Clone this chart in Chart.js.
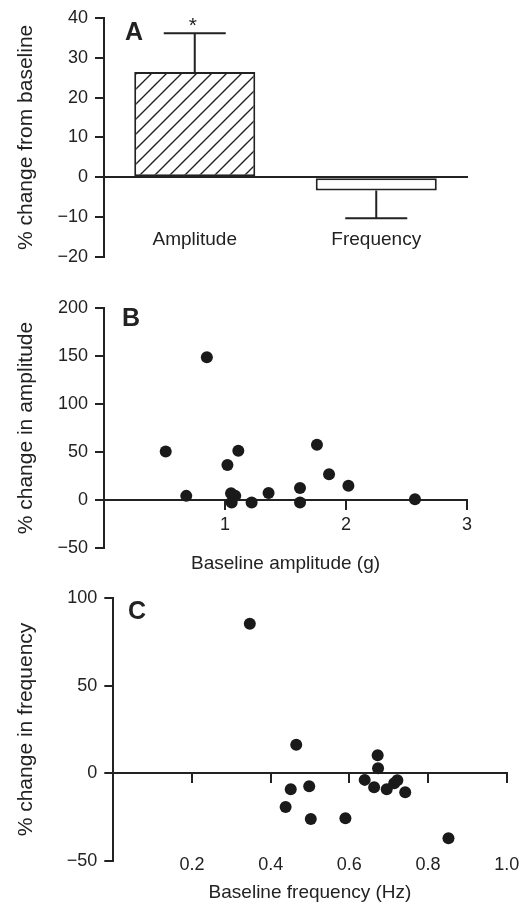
<!DOCTYPE html>
<html>
<head>
<meta charset="utf-8">
<script src="https://cdn.jsdelivr.net/npm/chart.js@4.4.1/dist/chart.umd.min.js"></script>
<style>
  body { margin: 0; background: #fff; }
  #wrap { position: relative; width: 521px; height: 909px; }
  canvas { position: absolute; left: 0; }
</style>
</head>
<body>
<div id="wrap">
  <canvas id="chartA" width="521" height="290" style="top:0px"></canvas>
  <canvas id="chartB" width="521" height="290" style="top:290px"></canvas>
  <canvas id="chartC" width="521" height="329" style="top:580px"></canvas>
</div>
<script>
// panel A: mean % change with SEM
const barLabels = ['Amplitude', 'Frequency'];
const barMeans = [26.4, -3.3];
const barErrors = [9.7, 7.0];
const barMarks = ['*', ''];

// panel B: baseline amplitude (g) vs % change in amplitude
const ampBaseline = [0.51, 0.68, 0.85, 1.02, 1.11, 1.05, 1.085, 1.055, 1.22, 1.36, 1.62, 1.62, 1.76, 1.86, 2.02, 2.57];
const ampChange = [50.6, 4.5, 148.5, 36.5, 51.3, 7.3, 4.5, -2.5, -2.5, 7.6, 12.8, -2.5, 57.6, 27, 14.9, 1];

// panel C: baseline frequency (Hz) vs % change in frequency
const freqBaseline = [0.347, 0.465, 0.451, 0.438, 0.498, 0.502, 0.59, 0.639, 0.663, 0.672, 0.673, 0.695, 0.714, 0.722, 0.742, 0.852];
const freqChange = [85.5, 16.3, -9.1, -19.3, -7.4, -26.1, -25.7, -3.8, -8, 10.3, 2.9, -9.1, -5.7, -4, -10.9, -37.1];

const ink = '#222';
const fam = "'Liberation Sans', Arial, Helvetica, sans-serif";
Chart.defaults.font.family = fam;
Chart.defaults.color = ink;

function minus(v) {
  return String(v).replace('-', '\u2212');
}

function hatch() {
  const c = document.createElement('canvas');
  c.width = 15; c.height = 15;
  const g = c.getContext('2d');
  g.fillStyle = '#fff';
  g.fillRect(0, 0, 15, 15);
  g.strokeStyle = ink;
  g.lineWidth = 1.4;
  g.beginPath();
  g.moveTo(0, 15); g.lineTo(15, 0);
  g.moveTo(-3, 3); g.lineTo(3, -3);
  g.moveTo(12, 18); g.lineTo(18, 12);
  g.stroke();
  return g.createPattern(c, 'repeat');
}

// big panel letter
const panelLetter = {
  id: 'panelLetter',
  afterDraw(chart, args, opts) {
    const ctx = chart.ctx;
    ctx.save();
    ctx.font = 'bold 25px ' + fam;
    ctx.fillStyle = ink;
    ctx.textAlign = 'center';
    ctx.textBaseline = 'middle';
    ctx.fillText(opts.text, opts.x, opts.y);
    ctx.restore();
  }
};

// one-sided error bars + significance mark
const errorBars = {
  id: 'errorBars',
  afterDatasetsDraw(chart) {
    const ctx = chart.ctx;
    const meta = chart.getDatasetMeta(0);
    const y = chart.scales.y;
    ctx.save();
    ctx.strokeStyle = ink;
    ctx.lineWidth = 2;
    meta.data.forEach((bar, i) => {
      const v = barMeans[i];
      const end = v >= 0 ? v + barErrors[i] : v - barErrors[i];
      const y0 = y.getPixelForValue(v);
      const y1 = y.getPixelForValue(end);
      ctx.beginPath();
      ctx.moveTo(bar.x, y0);
      ctx.lineTo(bar.x, y1);
      ctx.moveTo(bar.x - 31, y1);
      ctx.lineTo(bar.x + 31, y1);
      ctx.stroke();
      if (barMarks[i]) {
        ctx.fillStyle = ink;
        ctx.font = '21px ' + fam;
        ctx.textAlign = 'center';
        ctx.textBaseline = 'alphabetic';
        ctx.fillText(barMarks[i], bar.x - 2, y1 - 1);
      }
    });
    ctx.restore();
  }
};

function yAxis(min, max, step, title, width) {
  return {
    min: min, max: max,
    position: 'left',
    afterFit: s => { s.width = width; },
    border: { display: true, color: ink, width: 2 },
    grid: { drawOnChartArea: false, drawTicks: true, tickLength: 9, color: ink, lineWidth: 2 },
    ticks: { stepSize: step, padding: 7, font: { size: 18 }, color: ink, callback: v => minus(v) },
    title: { display: true, text: title, font: { size: 21 }, color: ink, padding: { top: 13.5, bottom: 0 } }
  };
}

// keep the big tick padding from squeezing the plot sideways
function noSidePad(s) {
  s.paddingLeft = 0;
  s.paddingRight = 0;
}

function scatterX(min, max, step, title, tickPad, titlePad, fmt) {
  return {
    type: 'linear',
    position: { y: 0 },
    min: min, max: max,
    afterFit: noSidePad,
    border: { display: true, color: ink, width: 2 },
    grid: { drawOnChartArea: false, drawTicks: true, tickLength: 9, color: ink, lineWidth: 2 },
    ticks: { stepSize: step, padding: tickPad, font: { size: 18 }, color: ink, maxRotation: 0,
      callback: v => (Math.abs(v) < 1e-6 ? '' : fmt(v)) },
    title: { display: true, text: title, font: { size: 19 }, color: ink, padding: { top: titlePad, bottom: 0 } }
  };
}

function pts(xs, ys) {
  return xs.map((x, i) => ({ x: x, y: ys[i] }));
}

const common = {
  responsive: false,
  animation: false,
  events: []
};

new Chart(document.getElementById('chartA'), {
  type: 'bar',
  data: {
    labels: barLabels,
    datasets: [{
      data: barMeans,
      backgroundColor: [hatch(), '#fff'],
      borderColor: ink,
      borderWidth: 2,
      borderSkipped: false,
      barPercentage: 0.667,
      categoryPercentage: 1
    }]
  },
  options: Object.assign({}, common, {
    layout: { padding: { left: 0, right: 54, top: 16, bottom: 33 } },
    plugins: {
      legend: { display: false },
      tooltip: { enabled: false },
      panelLetter: { text: 'A', x: 134, y: 33 }
    },
    scales: {
      x: {
        type: 'category',
        position: { y: 0 },
        offset: true,
        afterFit: noSidePad,
        border: { display: true, color: ink, width: 2 },
        grid: { display: false, drawTicks: false },
        ticks: { padding: 51, font: { size: 19 }, color: ink }
      },
      y: yAxis(-20, 40, 10, '% change from baseline', 104)
    }
  }),
  plugins: [errorBars, panelLetter]
});

new Chart(document.getElementById('chartB'), {
  type: 'scatter',
  data: {
    datasets: [{
      data: pts(ampBaseline, ampChange),
      pointRadius: 6,
      pointBackgroundColor: '#1a1a1a',
      pointBorderWidth: 0
    }]
  },
  options: Object.assign({}, common, {
    layout: { padding: { left: 0, right: 54, top: 17.3, bottom: 31.7 } },
    plugins: {
      legend: { display: false },
      tooltip: { enabled: false },
      panelLetter: { text: 'B', x: 131, y: 29.5 }
    },
    scales: {
      x: scatterX(0, 3, 1, 'Baseline amplitude (g)', 5, 12, v => String(v)),
      y: yAxis(-50, 200, 50, '% change in amplitude', 104)
    }
  }),
  plugins: [panelLetter]
});

new Chart(document.getElementById('chartC'), {
  type: 'scatter',
  data: {
    datasets: [{
      data: pts(freqBaseline, freqChange),
      pointRadius: 6,
      pointBackgroundColor: '#1a1a1a',
      pointBorderWidth: 0
    }]
  },
  options: Object.assign({}, common, {
    layout: { padding: { left: 0, right: 14.3, top: 18.3, bottom: 48.3 } },
    plugins: {
      legend: { display: false },
      tooltip: { enabled: false },
      panelLetter: { text: 'C', x: 137, y: 32 }
    },
    scales: {
      x: scatterX(0, 1, 0.2, 'Baseline frequency (Hz)', 72, 11, v => v.toFixed(1)),
      y: yAxis(-50, 100, 50, '% change in frequency', 113.3)
    }
  }),
  plugins: [panelLetter]
});
</script>
</body>
</html>
